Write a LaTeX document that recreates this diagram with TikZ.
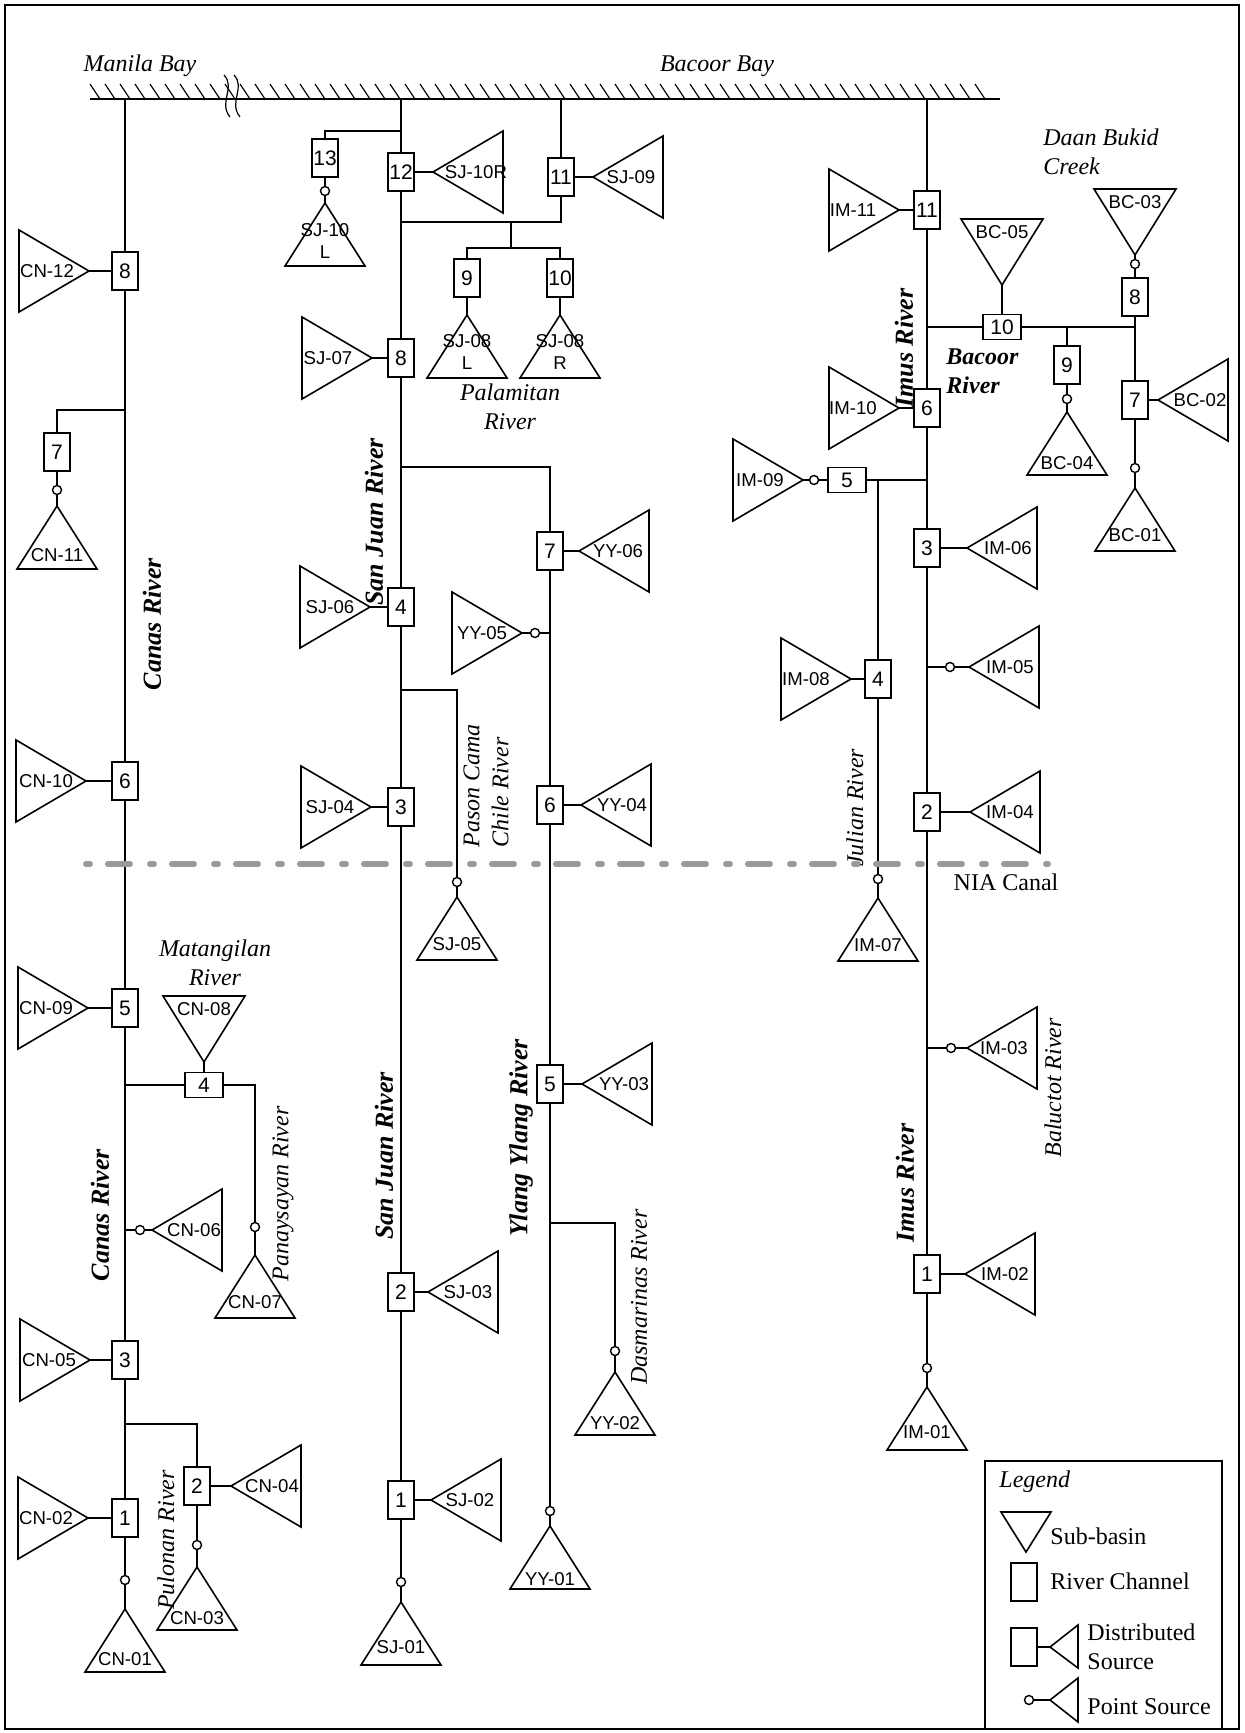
\documentclass[tikz,border=0pt]{standalone}
\usepackage{fontspec}
\setmainfont{Liberation Serif}
\newfontfamily\arialfont{Liberation Sans}
\usetikzlibrary{calc}

\tikzset{
  river/.style={line width=0.8pt},
  tri/.style={line width=0.8pt, line join=miter},
  box/.style={draw, line width=0.8pt, rectangle, fill=white, inner sep=0pt,
    minimum width=13pt, minimum height=19pt, font=\arialfont\fontsize{10.5}{12}\selectfont},
  hbox/.style={box, minimum width=19pt, minimum height=12.5pt},
  psrc/.style={draw, circle, line width=0.7pt, fill=white, inner sep=0pt, minimum size=4.5pt},
  lbl/.style={inner sep=0pt, align=center, font=\arialfont\fontsize{9.3}{11}\selectfont},
  rname/.style={inner sep=0pt, rotate=90, font=\fontsize{13}{15}\selectfont\bfseries\itshape},
  tname/.style={inner sep=0pt, font=\fontsize{12}{14.5}\selectfont\itshape},
  lgtxt/.style={inner sep=0pt, anchor=west, align=left, font=\fontsize{12}{14.5}\selectfont},
  canal/.style={line width=3pt, black!40, line cap=round, dash pattern=on 2pt off 9pt on 11pt off 10pt},
}

% sub-basin triangles: [label offset]{name}{apex}{text}
\newcommand{\srcL}[4][-42]{% left of the river, apex pointing right
  \coordinate (#2) at (#3);
  \draw[tri] (#2) -- ++(-70,-41) -- ++(0,82) -- cycle;
  \node[lbl] (#2-t) at ($(#2)+(#1,0)$) {#4};}
\newcommand{\srcR}[4][41]{% right of the river, apex pointing left
  \coordinate (#2) at (#3);
  \draw[tri] (#2) -- ++(70,-41) -- ++(0,82) -- cycle;
  \node[lbl] (#2-t) at ($(#2)+(#1,0)$) {#4};}
\newcommand{\srcU}[4][49]{% below, apex up
  \coordinate (#2) at (#3);
  \draw[tri] (#2) -- ++(-40,63) -- ++(80,0) -- cycle;
  \node[lbl] (#2-t) at ($(#2)+(0,#1)$) {#4};}
\newcommand{\srcD}[4][-53]{% above, apex down
  \coordinate (#2) at (#3);
  \draw[tri] (#2) -- ++(-41,-66) -- ++(82,0) -- cycle;
  \node[lbl] (#2-t) at ($(#2)+(0,#1)$) {#4};}

\begin{document}
\begin{tikzpicture}[x=0.5pt, y=-0.5pt]
  \useasboundingbox (0,0) rectangle (1245,1733);
  \draw[line width=0.8pt] (5,5) rectangle (1239,1729);

  % Bay
  \coordinate (bayW) at (90,99);
  \coordinate (bayE) at (1000,99);
  \draw[river] (bayW) -- (bayE);
  \foreach \x in {90,105,...,985}
    \draw[line width=0.6pt] (\x,84) -- ++(10,15);
  \draw[line width=0.6pt] (224,75) .. controls (236,88) and (218,102) .. (230,117);
  \draw[line width=0.6pt] (234,75) .. controls (246,88) and (228,102) .. (240,117);
  \node[tname] (manila) at (140,66) {Manila Bay};
  \node[tname] (bacoor) at (717,66) {Bacoor Bay};

  % Canas River
  \coordinate (CNtop) at (125,99);
  \coordinate (cnJ7) at (125,410);
  \coordinate (cnJ4) at (125,1085);
  \coordinate (cnJ6) at (125,1230);
  \coordinate (cnJ2) at (125,1424);
  \node[box] (cnR8) at (125,271) {8};
  \node[box] (cnR7) at (57,452) {7};
  \node[psrc] (cnP11) at (57,490) {};
  \node[box] (cnR6) at (125,781) {6};
  \node[box] (cnR5) at (125,1008) {5};
  \node[hbox] (cnR4) at (204,1085) {4};
  \node[psrc] (cnP7) at (255,1227) {};
  \node[psrc] (cnP6) at (140,1230) {};
  \node[box] (cnR3) at (125,1360) {3};
  \node[box] (cnR2) at (197,1486) {2};
  \node[psrc] (cnP3) at (197,1545) {};
  \node[box] (cnR1) at (125,1518) {1};
  \node[psrc] (cnP1) at (125,1580) {};
  \srcL{CN12}{89,271}{CN-12}
  \srcU{CN11}{57,506}{CN-11}
  \srcL[-40]{CN10}{86,781}{CN-10}
  \srcL{CN09}{88,1008}{CN-09}
  \srcD{CN08}{204,1062}{CN-08}
  \srcU[47]{CN07}{255,1255}{CN-07}
  \srcR[42]{CN06}{152,1230}{CN-06}
  \srcL[-41]{CN05}{90,1360}{CN-05}
  \srcR{CN04}{231,1486}{CN-04}
  \srcU[51]{CN03}{197,1567}{CN-03}
  \srcL{CN02}{88,1518}{CN-02}
  \srcU[50]{CN01}{125,1609}{CN-01}
  \draw[river] (CNtop) -- (cnR8) -- (cnR6) -- (cnR5) -- (cnR3) -- (cnR1) -- (cnP1) -- (CN01);
  \draw[river] (cnR8) -- (CN12);
  \draw[river] (cnJ7) -| (cnR7);
  \draw[river] (cnR7) -- (cnP11) -- (CN11);
  \draw[river] (cnR6) -- (CN10);
  \draw[river] (cnR5) -- (CN09);
  \draw[river] (cnJ4) -- (cnR4);
  \draw[river] (cnR4) -- (CN08);
  \draw[river] (cnR4) -| (cnP7);
  \draw[river] (cnP7) -- (CN07);
  \draw[river] (cnJ6) -- (cnP6) -- (CN06);
  \draw[river] (cnR3) -- (CN05);
  \draw[river] (cnJ2) -| (cnR2);
  \draw[river] (cnR2) -- (CN04);
  \draw[river] (cnR2) -- (cnP3) -- (CN03);
  \draw[river] (cnR1) -- (CN02);

  % San Juan River
  \coordinate (SJtop) at (401,99);
  \coordinate (sjJ13) at (401,131);
  \coordinate (sjJ) at (401,222);
  \coordinate (sjJm) at (511,222);
  \coordinate (sjJb) at (561,222);
  \coordinate (sjJs) at (511,248);
  \coordinate (sjBay11) at (561,99);
  \coordinate (sjJy) at (401,467);
  \coordinate (sjJ5) at (401,690);
  \node[box] (sjR13) at (325,158) {13};
  \node[psrc] (sjP10) at (325,191) {};
  \node[box] (sjR12) at (401,172) {12};
  \node[box] (sjR11) at (561,177) {11};
  \node[box] (sjR9) at (467,278) {9};
  \node[box] (sjR10) at (560,278) {10};
  \node[box] (sjR8) at (401,358) {8};
  \node[box] (sjR4) at (401,607) {4};
  \node[psrc] (sjP5) at (457,882) {};
  \node[box] (sjR3) at (401,807) {3};
  \node[box] (sjR2) at (401,1292) {2};
  \node[box] (sjR1) at (401,1500) {1};
  \node[psrc] (sjP1) at (401,1582) {};
  \srcU[38]{SJ10L}{325,203}{SJ-10\\L}
  \srcR[43]{SJ10R}{433,172}{SJ-10R}
  \srcR[38]{SJ09}{593,177}{SJ-09}
  \srcU[37]{SJ08L}{467,315}{SJ-08\\L}
  \srcU[37]{SJ08R}{560,315}{SJ-08\\R}
  \srcL[-44]{SJ07}{372,358}{SJ-07}
  \srcL[-40]{SJ06}{370,607}{SJ-06}
  \srcU[47]{SJ05}{457,897}{SJ-05}
  \srcL[-41]{SJ04}{371,807}{SJ-04}
  \srcR[40]{SJ03}{428,1292}{SJ-03}
  \srcR[39]{SJ02}{431,1500}{SJ-02}
  \srcU[45]{SJ01}{401,1602}{SJ-01}
  \draw[river] (SJtop) -- (sjR12) -- (sjR8) -- (sjR4) -- (sjR3) -- (sjR2) -- (sjR1) -- (sjP1) -- (SJ01);
  \draw[river] (sjJ13) -| (sjR13);
  \draw[river] (sjR13) -- (sjP10) -- (SJ10L);
  \draw[river] (sjR12) -- (SJ10R);
  \draw[river] (sjBay11) -- (sjR11) -- (sjJb) -- (sjJ);
  \draw[river] (sjR11) -- (SJ09);
  \draw[river] (sjJm) -- (sjJs);
  \draw[river] (sjR9) |- (sjJs) -| (sjR10);
  \draw[river] (sjR9) -- (SJ08L);
  \draw[river] (sjR10) -- (SJ08R);
  \draw[river] (sjR8) -- (SJ07);
  \draw[river] (sjR4) -- (SJ06);
  \draw[river] (sjJ5) -| (sjP5);
  \draw[river] (sjP5) -- (SJ05);
  \draw[river] (sjR3) -- (SJ04);
  \draw[river] (sjR2) -- (SJ03);
  \draw[river] (sjR1) -- (SJ02);

  % Ylang Ylang River
  \coordinate (yyJ5) at (550,633);
  \coordinate (yyJ2) at (550,1223);
  \node[box] (yyR7) at (550,551) {7};
  \node[psrc] (yyP5) at (535,633) {};
  \node[box] (yyR6) at (550,805) {6};
  \node[box] (yyR5) at (550,1084) {5};
  \node[psrc] (yyP2) at (615,1351) {};
  \node[psrc] (yyP1) at (550,1511) {};
  \srcR[39]{YY06}{579,551}{YY-06}
  \srcL[-40]{YY05}{522,633}{YY-05}
  \srcR{YY04}{581,805}{YY-04}
  \srcR[42]{YY03}{582,1084}{YY-03}
  \srcU[51]{YY02}{615,1372}{YY-02}
  \srcU[53]{YY01}{550,1526}{YY-01}
  \draw[river] (sjJy) -| (yyR7);
  \draw[river] (yyR7) -- (yyR6) -- (yyR5) -- (yyP1) -- (YY01);
  \draw[river] (yyR7) -- (YY06);
  \draw[river] (yyJ5) -- (yyP5) -- (YY05);
  \draw[river] (yyR6) -- (YY04);
  \draw[river] (yyR5) -- (YY03);
  \draw[river] (yyJ2) -| (yyP2);
  \draw[river] (yyP2) -- (YY02);

  % Imus River and Bacoor River
  \coordinate (IMtop) at (927,99);
  \coordinate (imJ10) at (927,327);
  \coordinate (bcJ9) at (1067,327);
  \coordinate (bcJ8) at (1135,327);
  \coordinate (imJ5) at (927,480);
  \coordinate (jlJ) at (878,480);
  \coordinate (imJ05) at (927,667);
  \coordinate (imJ03) at (927,1048);
  \node[box] (imR11) at (927,210) {11};
  \node[hbox] (bcR10) at (1002,327) {10};
  \node[box] (bcR9) at (1067,365) {9};
  \node[psrc] (bcP4) at (1067,399) {};
  \node[box] (bcR8) at (1135,297) {8};
  \node[psrc] (bcP3) at (1135,264) {};
  \node[box] (bcR7) at (1135,400) {7};
  \node[psrc] (bcP1) at (1135,468) {};
  \node[box] (imR6) at (927,408) {6};
  \node[hbox] (imR5) at (847,480) {5};
  \node[psrc] (imP9) at (814,480) {};
  \node[box] (imR4) at (878,679) {4};
  \node[psrc] (imP7) at (878,879) {};
  \node[box] (imR3) at (927,548) {3};
  \node[psrc] (imP5) at (950,667) {};
  \node[box] (imR2) at (927,812) {2};
  \node[psrc] (imP3) at (951,1048) {};
  \node[box] (imR1) at (927,1274) {1};
  \node[psrc] (imP1) at (927,1368) {};
  \srcL[-46]{IM11}{899,210}{IM-11}
  \srcD{BC05}{1002,285}{BC-05}
  \srcU[51]{BC04}{1067,412}{BC-04}
  \srcD{BC03}{1135,255}{BC-03}
  \srcR[42]{BC02}{1158,400}{BC-02}
  \srcU[47]{BC01}{1135,488}{BC-01}
  \srcL[-46]{IM10}{899,408}{IM-10}
  \srcL[-43]{IM09}{803,480}{IM-09}
  \srcL[-45]{IM08}{851,679}{IM-08}
  \srcU[47]{IM07}{878,898}{IM-07}
  \srcR{IM06}{967,548}{IM-06}
  \srcR{IM05}{969,667}{IM-05}
  \srcR[40]{IM04}{970,812}{IM-04}
  \srcR[37]{IM03}{967,1048}{IM-03}
  \srcR[40]{IM02}{965,1274}{IM-02}
  \srcU[45]{IM01}{927,1387}{IM-01}
  \draw[river] (IMtop) -- (imR11) -- (imR6) -- (imR3) -- (imR2) -- (imR1) -- (imP1) -- (IM01);
  \draw[river] (imR11) -- (IM11);
  \draw[river] (imJ10) -- (bcR10) -- (bcJ8);
  \draw[river] (BC05) -- (bcR10);
  \draw[river] (bcJ9) -- (bcR9) -- (bcP4) -- (BC04);
  \draw[river] (BC03) -- (bcP3) -- (bcR8) -- (bcR7) -- (bcP1) -- (BC01);
  \draw[river] (bcR7) -- (BC02);
  \draw[river] (imR6) -- (IM10);
  \draw[river] (imJ5) -- (imR5) -- (imP9) -- (IM09);
  \draw[river] (jlJ) -- (imR4) -- (imP7) -- (IM07);
  \draw[river] (imR4) -- (IM08);
  \draw[river] (imR3) -- (IM06);
  \draw[river] (imJ05) -- (imP5) -- (IM05);
  \draw[river] (imR2) -- (IM04);
  \draw[river] (imJ03) -- (imP3) -- (IM03);
  \draw[river] (imR1) -- (IM02);

  % NIA canal
  \coordinate (niaW) at (86,864);
  \coordinate (niaE) at (1048,864);
  \draw[canal] (niaW) -- (niaE);
  \node[inner sep=0pt, font=\fontsize{12}{14}\selectfont] (nia) at (1006,882) {NIA Canal};

  % River names
  \node[rname] (canas1) at (152,624) {Canas River};
  \node[rname] (canas2) at (100,1215) {Canas River};
  \node[rname] (sanjuan1) at (374,522) {San Juan River};
  \node[rname] (sanjuan2) at (384,1156) {San Juan River};
  \node[rname] (ylang) at (521,1138) {Ylang Ylang River};
  \node[rname] (imus1) at (904,348) {Imus River};
  \node[rname] (imus2) at (905,1183) {Imus River};
  \node[inner sep=0pt, align=left, anchor=west, font=\fontsize{12}{14.5}\selectfont\bfseries\itshape] (bacoorR) at (946,371) {Bacoor\\River};
  \node[tname, align=left, anchor=west] (daan) at (1043,152) {Daan Bukid\\Creek};
  \node[tname, align=center] (palamitan) at (510,407) {Palamitan\\River};
  \node[tname, align=center] (matangilan) at (215,963) {Matangilan\\River};
  \node[tname, rotate=90] (panaysayan) at (283,1194) {Panaysayan River};
  \node[tname, rotate=90] (pulonan) at (166,1540) {Pulonan River};
  \node[tname, rotate=90, align=left, anchor=west] (pason) at (486,848) {Pason Cama\\Chile River};
  \node[tname, rotate=90] (dasmarinas) at (639,1297) {Dasmarinas River};
  \node[tname, rotate=90] (julian) at (855,808) {Julian River};
  \node[tname, rotate=90] (baluctot) at (1053,1088) {Baluctot River};

  % Legend
  \draw[line width=0.8pt] (985,1461) rectangle (1222,1729);
  \node[tname, anchor=west] (lg-title) at (999,1482) {Legend};
  \draw[tri] (1001,1512) -- (1051,1512) -- (1026,1552) -- cycle;
  \node[lgtxt] (lg-sub) at (1050,1536) {Sub-basin};
  \node[box] (lg-box) at (1024,1582) {};
  \node[lgtxt] (lg-ch) at (1050,1581) {River Channel};
  \node[box] (lg-dbox) at (1024,1647) {};
  \coordinate (lg-dtip) at (1050,1647);
  \draw[tri] (lg-dtip) -- (1078,1625) -- (1078,1668) -- cycle;
  \draw[river] (lg-dbox) -- (lg-dtip);
  \node[lgtxt] (lg-dist) at (1087,1647) {Distributed\\Source};
  \node[psrc] (lg-pt) at (1029,1700) {};
  \coordinate (lg-ptip) at (1050,1700);
  \draw[tri] (lg-ptip) -- (1078,1678) -- (1078,1722) -- cycle;
  \draw[river] (lg-pt) -- (lg-ptip);
  \node[lgtxt] (lg-ps) at (1087,1707) {Point Source};
\end{tikzpicture}
\end{document}
